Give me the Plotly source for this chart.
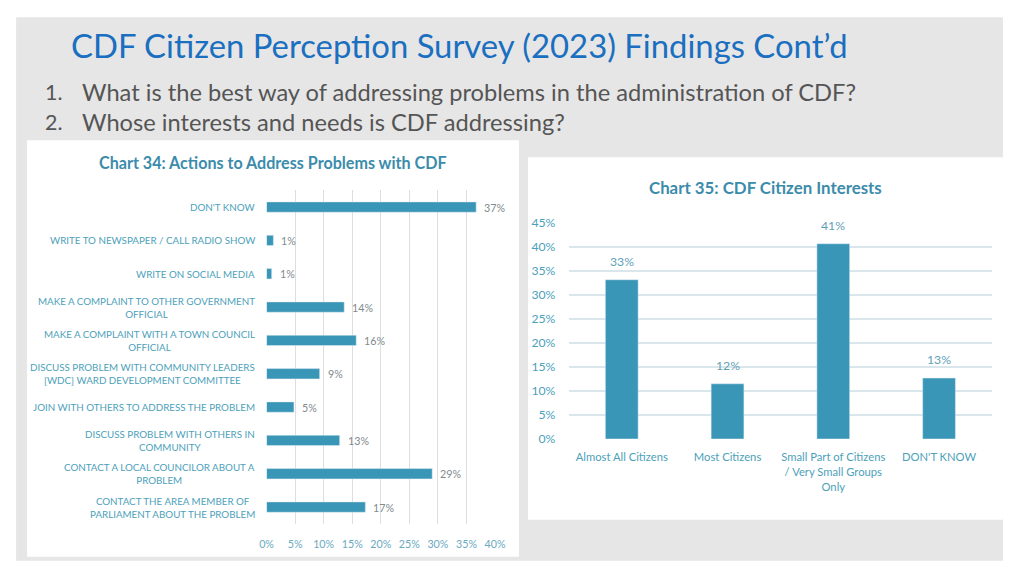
import plotly.graph_objects as go

# ---------------- data ----------------
action_categories = [
    "DON'T KNOW",
    "WRITE TO NEWSPAPER / CALL RADIO SHOW",
    "WRITE ON SOCIAL MEDIA",
    "MAKE A COMPLAINT TO OTHER GOVERNMENT OFFICIAL",
    "MAKE A COMPLAINT WITH A TOWN COUNCIL OFFICIAL",
    "DISCUSS PROBLEM WITH COMMUNITY LEADERS [WDC] WARD DEVELOPMENT COMMITTEE",
    "JOIN WITH OTHERS TO ADDRESS THE PROBLEM",
    "DISCUSS PROBLEM WITH OTHERS IN COMMUNITY",
    "CONTACT A LOCAL COUNCILOR ABOUT A PROBLEM",
    "CONTACT THE AREA MEMBER OF PARLIAMENT ABOUT THE PROBLEM",
]
action_labels = [
    "DON'T KNOW",
    "WRITE TO NEWSPAPER / CALL RADIO SHOW",
    "WRITE ON SOCIAL MEDIA",
    "MAKE A COMPLAINT TO OTHER GOVERNMENT<br>OFFICIAL",
    "MAKE A COMPLAINT WITH A TOWN COUNCIL<br>OFFICIAL",
    "DISCUSS PROBLEM WITH COMMUNITY LEADERS<br>[WDC] WARD DEVELOPMENT COMMITTEE",
    "JOIN WITH OTHERS TO ADDRESS THE PROBLEM",
    "DISCUSS PROBLEM WITH OTHERS IN<br>COMMUNITY",
    "CONTACT A LOCAL COUNCILOR ABOUT A<br>PROBLEM",
    "CONTACT THE AREA MEMBER OF<br>PARLIAMENT ABOUT THE PROBLEM",
]
action_values = [36.7, 1.2, 0.9, 13.6, 15.7, 9.3, 4.8, 12.8, 29.0, 17.3]
action_text = ["37%", "1%", "1%", "14%", "16%", "9%", "5%", "13%", "29%", "17%"]

interest_categories = [
    "Almost All Citizens",
    "Most Citizens",
    "Small Part of Citizens<br>/ Very Small Groups<br>Only",
    "DON'T KNOW",
]
interest_values = [33.2, 11.5, 40.7, 12.7]
interest_text = ["33%", "12%", "41%", "13%"]

# ---------------- style ----------------
W, H = 1024, 576
SX, SY, OFF = 1040 / 1024, 592 / 576, 8
FS = 1.02
BAR = "#3a96b7"
LABEL = "#4d9fba"
TITLE_TEAL = "#3b8cab"
FONT = "Lato, 'Open Sans', sans-serif"


def px(x):
    return (x * SX - OFF) / W


def py(y):
    return 1 - (y * SY - OFF) / H


def f(s):
    return s * FS


fig = go.Figure()

fig.add_trace(go.Bar(
    x=action_values, y=action_categories, orientation="h",
    marker=dict(color=BAR), width=0.31,
    cliponaxis=False, xaxis="x", yaxis="y", hoverinfo="skip",
))

fig.add_trace(go.Bar(
    x=interest_categories, y=interest_values,
    marker=dict(color=BAR), width=0.31,
    cliponaxis=False, xaxis="x2", yaxis="y2", hoverinfo="skip",
))

shapes = [
    dict(type="rect", xref="paper", yref="paper", x0=px(17), x1=px(1006),
         y0=py(560), y1=py(17), fillcolor="#e6e6e6", line=dict(width=0), layer="below"),
    dict(type="rect", xref="paper", yref="paper", x0=px(28), x1=px(521),
         y0=py(556), y1=py(140), fillcolor="#ffffff", line=dict(width=0), layer="below"),
    dict(type="rect", xref="paper", yref="paper", x0=px(530), x1=px(1006),
         y0=py(519), y1=py(157), fillcolor="#ffffff", line=dict(width=0), layer="below"),
]

annotations = [
    dict(text="CDF Citizen Perception Survey (2023) Findings Cont’d",
         x=px(70), y=py(45), xref="paper", yref="paper", xanchor="left", yanchor="middle",
         showarrow=False, font=dict(size=f(32.2), color="#1a6fc0", family=FONT)),
    dict(text="1.", x=px(44), y=py(92), xref="paper", yref="paper", xanchor="left",
         yanchor="middle", showarrow=False, font=dict(size=f(21), color="#555555", family=FONT)),
    dict(text="What is the best way of addressing problems in the administration of CDF?",
         x=px(81), y=py(92), xref="paper", yref="paper", xanchor="left", yanchor="middle",
         showarrow=False, font=dict(size=f(23.2), color="#555555", family=FONT)),
    dict(text="2.", x=px(44), y=py(122), xref="paper", yref="paper", xanchor="left",
         yanchor="middle", showarrow=False, font=dict(size=f(21), color="#555555", family=FONT)),
    dict(text="Whose interests and needs is CDF addressing?",
         x=px(81), y=py(122), xref="paper", yref="paper", xanchor="left", yanchor="middle",
         showarrow=False, font=dict(size=f(23.2), color="#555555", family=FONT)),
    dict(text="<b>Chart 34: Actions to Address Problems with CDF</b>",
         x=px(274), y=py(162), xref="paper", yref="paper", xanchor="center", yanchor="middle",
         showarrow=False, font=dict(size=f(15.8), color=TITLE_TEAL, family=FONT)),
    dict(text="<b>Chart 35: CDF Citizen Interests</b>",
         x=px(768), y=py(187), xref="paper", yref="paper", xanchor="center", yanchor="middle",
         showarrow=False, font=dict(size=f(16.5), color=TITLE_TEAL, family=FONT)),
]

for cat, lab in zip(action_categories, action_labels):
    annotations.append(dict(
        text=lab, x=px(258), y=cat, xref="paper", yref="y",
        xanchor="right", yanchor="middle", align="center", showarrow=False,
        font=dict(size=f(9.6), color=LABEL, family=FONT),
    ))

# data labels, placed through the axes
for cat, val, txt in zip(action_categories, action_values, action_text):
    annotations.append(dict(
        text=txt, x=val, y=cat, xref="x", yref="y", xanchor="left", yanchor="middle",
        xshift=6, showarrow=False,
        font=dict(size=f(10.5), color="#7f8a8e", family=FONT),
    ))

for cat, val, txt in zip(interest_categories, interest_values, interest_text):
    annotations.append(dict(
        text=txt, x=cat, y=val, xref="x2", yref="y2", xanchor="center", yanchor="bottom",
        yshift=9, showarrow=False,
        font=dict(size=f(12), color="#5f9fb6", family=FONT),
    ))

fig.update_layout(
    width=W, height=H,
    margin=dict(l=0, r=0, t=0, b=0),
    paper_bgcolor="#ffffff", plot_bgcolor="rgba(0,0,0,0)",
    showlegend=False, hovermode=False,
    shapes=shapes, annotations=annotations,
    font=dict(family=FONT),
    xaxis=dict(
        domain=[px(268), px(497)], anchor="y",
        range=[0, 40], dtick=5, ticksuffix="%",
        showgrid=True, gridcolor="#dedede", gridwidth=1, zeroline=False,
        showline=False, ticks="outside", ticklen=10, tickcolor="rgba(0,0,0,0)",
        tickfont=dict(size=f(10.5), color="#6aa9c0", family=FONT), fixedrange=True,
    ),
    yaxis=dict(
        domain=[py(523), py(190)], anchor="x",
        categoryorder="array", categoryarray=action_categories,
        range=[9.5, -0.5], showticklabels=False, showgrid=False,
        zeroline=False, showline=False, fixedrange=True,
    ),
    xaxis2=dict(
        domain=[px(571), px(995)], anchor="y2",
        range=[-0.5, 3.5], showgrid=False, zeroline=False, showline=False,
        ticks="outside", ticklen=8, tickcolor="rgba(0,0,0,0)",
        tickfont=dict(size=f(11), color=LABEL, family=FONT), fixedrange=True,
    ),
    yaxis2=dict(
        domain=[py(438.3), py(222.7)], anchor="x2",
        range=[0, 45], dtick=5, ticksuffix="%",
        showgrid=True, gridcolor="#d9e7ec", gridwidth=1.5, zeroline=False,
        showline=False, ticks="outside", ticklen=10, tickcolor="rgba(0,0,0,0)",
        tickfont=dict(size=f(12), color=LABEL, family=FONT), fixedrange=True,
    ),
)

fig.write_html(
    "out.html",
    config={"displayModeBar": False, "staticPlot": True},
    post_script=(
        "document.body.style.margin='0';"
        "document.body.style.overflow='hidden';"
    ),
)
